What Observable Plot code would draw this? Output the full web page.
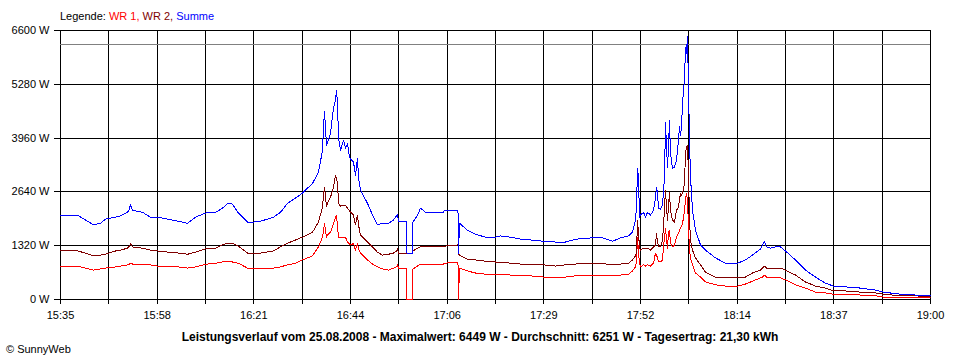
<!DOCTYPE html>
<html><head><meta charset="utf-8">
<script src="https://cdn.jsdelivr.net/npm/d3@7"></script>
<script src="https://cdn.jsdelivr.net/npm/@observablehq/plot@0.6"></script>
<style>
html,body{margin:0;padding:0;background:#fff;}
#page{position:relative;width:960px;height:360px;overflow:hidden;font-family:"Liberation Sans",Arial,sans-serif;color:#000;}
#legend{position:absolute;left:60px;top:10px;font-size:11px;line-height:13px;white-space:nowrap;}
#chart{position:absolute;left:0;top:24px;}
#chart svg path, #chart svg line{shape-rendering:crispEdges;}
#caption{position:absolute;left:0;top:330px;width:960px;text-align:center;font-size:12px;font-weight:bold;line-height:14px;white-space:nowrap;}
#copy{position:absolute;left:6px;top:343px;font-size:11px;line-height:13px;}
</style></head>
<body>
<div id="page">
  <div id="legend">Legende: <span style="color:#ff0000">WR 1,</span> <span style="color:#800000">WR 2,</span> <span style="color:#0000ff">Summe</span></div>
  <div id="chart"></div>
  <div id="caption">Leistungsverlauf vom 25.08.2008 - Maximalwert: 6449 W - Durchschnitt: 6251 W - Tagesertrag: 21,30 kWh</div>
  <div id="copy">© SunnyWeb</div>
</div>
<script>
// Minutes after 15:35 (x axis runs 15:35 .. 19:00)
const minutes = [
  0, 4.01, 5.89, 7.78, 9.43, 10.60, 12.96, 14.14, 15.79, 16.26,
  16.49, 16.97, 19.32, 21.21, 22.86, 25.45, 27.80, 29.93, 31.81, 34.64,
  36.52, 38.17, 39.35, 40.53, 41.94, 44.06, 45.48, 47.13, 50.19, 51.84,
  53.49, 55.37, 57.02, 59.38, 60.79, 61.74, 61.97, 62.21, 62.68, 62.91,
  63.62, 64.33, 64.80, 65.03, 65.27, 65.51, 65.98, 66.68, 67.15, 67.63,
  68.10, 68.57, 69.04, 69.51, 69.98, 70.22, 70.69, 72.34, 73.52, 74.69,
  75.87, 77.29, 78.46, 79.17, 79.41, 79.64, 81.53, 81.65, 82.94, 83.06,
  84.12, 84.83, 86.00, 87.89, 90.25, 90.48, 93.66, 93.78, 94.02, 95.90,
  97.79, 100.14, 102.50, 103.68, 106.03, 108.39, 110.75, 113.81, 116.64, 118.99,
  121.35, 124.88, 127.24, 130.07, 131.95, 133.84, 134.78, 135.49, 135.72, 135.96,
  136.19, 136.43, 136.67, 137.37, 137.84, 138.32, 139.02, 139.73, 140.20, 140.44,
  140.67, 140.91, 141.38, 141.85, 142.09, 142.32, 142.56, 142.79, 143.03, 143.26,
  143.50, 143.73, 144.21, 144.68, 145.15, 145.62, 145.86, 146.09, 146.33, 146.56,
  146.80, 147.03, 147.27, 147.50, 147.74, 147.98, 148.21, 148.45, 148.92, 149.63,
  150.80, 151.98, 154.34, 156.69, 159.52, 161.41, 163.06, 164.94, 165.41, 165.88,
  166.35, 167.30, 168.48, 169.65, 170.83, 173.19, 175.54, 177.90, 180.26, 182.14,
  184.97, 188.50, 192.04, 193.92, 197.93, 201.46, 205.00
];
// Summe (W)
const summe = [
  2070,2070,1950,1830,1870,1970,2020,2050,2140,2220,
  2340,2190,2140,2020,2020,1970,1920,1870,2020,2140,
  2140,2240,2360,2340,2120,1900,1900,1920,2020,2140,
  2360,2490,2610,2850,3120,3660,4230,4620,3780,3860,
  4080,4710,4890,5130,4810,3960,3660,3910,3710,3830,
  3490,3420,3370,3050,3470,2980,2680,2360,2070,1830,
  1870,1870,1950,2050,2090,1920,1920,1140,1140,1900,
  2070,2240,2140,2140,2140,2190,2190,1140,1870,1700,
  1600,1530,1530,1560,1530,1480,1460,1430,1410,1410,
  1480,1510,1530,1430,1510,1560,1650,1950,2270,3220,
  3000,2020,2070,2140,2020,2140,2070,2190,2490,2760,
  2610,2240,2220,2310,2680,3000,4350,3740,3250,3740,
  4400,3590,3220,3250,3420,3910,4250,4030,4230,4810,
  5130,5380,6180,6040,6449,5200,3910,3000,2190,1700,
  1340,1210,1020,890,890,970,1090,1240,1340,1430,
  1290,1260,1290,1290,1190,970,720,550,400,330,
  310,280,230,180,130,110,90
];
// WR 2 (W)
const wr2 = [
  1210,1190,1140,1070,1090,1110,1190,1210,1260,1310,
  1380,1290,1260,1210,1190,1160,1140,1110,1160,1260,
  1260,1340,1380,1380,1310,1140,1140,1140,1190,1290,
  1380,1460,1530,1650,1900,2270,2560,2760,2270,2360,
  2510,2760,3050,2980,2850,2360,2290,2310,2310,2240,
  2170,2120,2070,1830,2070,1830,1580,1410,1290,1160,
  1090,1110,1140,1190,1240,1140,1140,1140,1140,1190,
  1260,1290,1290,1290,1290,1310,1340,1110,1090,990,
  970,940,920,920,890,870,850,850,820,850,
  870,890,890,850,870,890,970,1070,1140,1950,
  1630,1290,1210,1260,1240,1260,1210,1290,1340,1630,
  1410,1310,1290,1460,1780,2270,2680,2270,1950,2270,
  2630,2190,1950,1900,2190,2270,2440,2610,2560,2610,
  2730,2850,3590,3740,3780,3100,1950,1460,1210,1020,
  850,670,550,530,530,550,650,720,770,820,
  770,750,750,770,720,600,430,330,280,210,
  210,180,160,130,90,90,60
];
// WR 1 (W)
const wr1 = [
  820,820,770,720,750,770,800,820,850,870,
  890,870,870,850,820,800,800,770,800,870,
  890,920,940,920,890,770,770,770,770,800,
  850,890,970,1070,1290,1530,1700,1870,1530,1580,
  1650,1870,2000,2070,1780,1530,1510,1510,1530,1410,
  1360,1340,1380,1210,1380,1240,1140,970,870,800,
  750,720,770,800,850,770,770,0,0,750,
  820,870,870,870,870,890,920,0,770,700,
  650,620,620,620,600,580,580,550,550,550,
  580,600,600,580,600,620,700,800,920,1530,
  1140,890,800,850,820,850,820,890,1140,1090,
  1020,940,920,970,1290,1530,1750,1460,1260,1630,
  1700,1380,1290,1340,1530,1630,1700,1750,1800,1870,
  2000,2190,2440,2610,2440,1780,1210,1020,850,650,
  550,430,360,330,330,380,450,530,550,600,
  550,530,530,530,480,360,280,180,160,130,
  120,110,90,60,40,40,40
];
const durchschnitt = 6251;
const yTicks = [0, 1320, 2640, 3960, 5280, 6600];
const xTickLabels = ["15:35","15:58","16:21","16:44","17:06","17:29","17:52","18:14","18:37","19:00"];
const spanMinutes = 205;

const step = spanMinutes / 18;
const xTicks = d3.range(19).map(i => i * step);
const labelFor = d => {
  const i = Math.round(d / step);
  return i % 2 === 0 ? xTickLabels[i / 2] : "";
};
const rows = minutes.map((m, i) => ({m, wr1: wr1[i], wr2: wr2[i], summe: summe[i]}));

const chart = Plot.plot({
  width: 960, height: 300,
  marginTop: 6, marginBottom: 25, marginLeft: 60, marginRight: 30,
  style: {fontFamily: "'Liberation Sans', Arial, sans-serif", fontSize: "11px", color: "black", background: "white", overflow: "visible"},
  x: {domain: [0, spanMinutes]},
  y: {domain: [0, 6600]},
  marks: [
    Plot.gridY(yTicks, {stroke: "black", strokeOpacity: 1}),
    Plot.gridX(xTicks, {stroke: "black", strokeOpacity: 1}),
    Plot.ruleY([durchschnitt], {stroke: "#808080"}),
    Plot.line(rows, {x: "m", y: "wr1", stroke: "#ff0000", strokeWidth: 1}),
    Plot.line(rows, {x: "m", y: "wr2", stroke: "#800000", strokeWidth: 1}),
    Plot.line(rows, {x: "m", y: "summe", stroke: "#0000ff", strokeWidth: 1}),
    Plot.axisY(yTicks, {tickSize: 6, tickPadding: 5, tickFormat: d => `${d} W`, label: null}),
    Plot.axisX(xTicks, {tickSize: 5, tickPadding: 7, tickFormat: labelFor, label: null})
  ]
});
document.getElementById("chart").appendChild(chart);
</script>
</body></html>
